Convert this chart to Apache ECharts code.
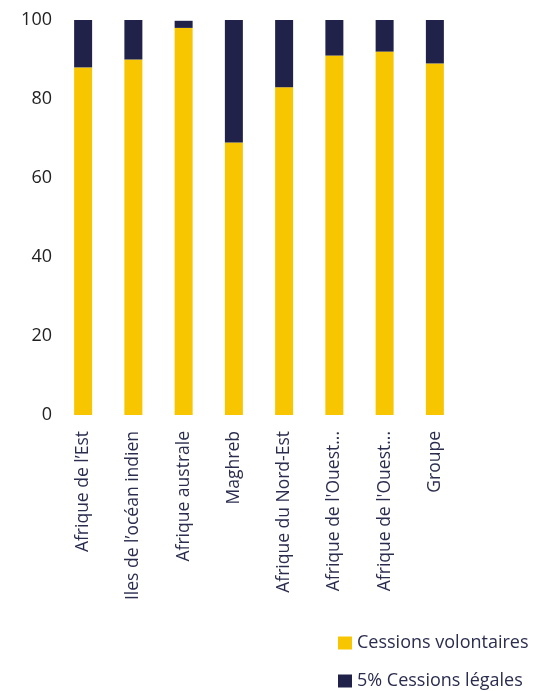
<!DOCTYPE html>
<html>
<head>
<meta charset="utf-8">
<script src="https://cdn.jsdelivr.net/npm/echarts@6/dist/echarts.min.js"></script>
<style>html,body{margin:0;padding:0;background:#fff}#c{width:538px;height:691px}</style>
</head>
<body>
<div id="c"></div>
<script>
var categories = ["Afrique de l’Est", "Iles de l’océan indien", "Afrique australe", "Maghreb", "Afrique du Nord-Est", "Afrique de l'Ouest...", "Afrique de l'Ouest...", "Groupe"];
var volontaires = [88, 90, 98, 69, 83, 91, 92, 89];
var legales = [12, 10, 1.8, 31, 17, 9, 8, 11];
var yTicks = [0, 20, 40, 60, 80, 100];

var chart = echarts.init(document.getElementById('c'));
var font = "'Open Sans', 'Noto Sans', sans-serif";
chart.setOption({
  animation: false,
  textStyle: { fontFamily: font },
  grid: { left: 58, right: 78, top: 20, bottom: 276, containLabel: false },
  legend: {
    orient: 'vertical', left: 333, top: 629, height: 120,
    itemWidth: 14, itemHeight: 13, itemGap: 20,
    icon: 'rect',
    textStyle: { color: '#2b2d4f', fontSize: 18, fontFamily: font },
    data: ['Cessions volontaires', '5% Cessions légales']
  },
  xAxis: {
    type: 'category', data: categories,
    axisLine: { show: false }, axisTick: { show: false },
    axisLabel: { rotate: 90, interval: 0, color: '#2b2d4f', fontSize: 17.5, margin: 16, fontFamily: font }
  },
  yAxis: {
    type: 'value', min: yTicks[0], max: yTicks[yTicks.length - 1], interval: 20,
    axisLine: { show: false }, axisTick: { show: false }, splitLine: { show: false },
    axisLabel: { color: '#222', fontSize: 18, margin: 6, fontFamily: font }
  },
  series: [
    { name: 'Cessions volontaires', type: 'bar', stack: 'a', data: volontaires, barWidth: 18, itemStyle: { color: '#F7C600' } },
    { name: '5% Cessions légales', type: 'bar', stack: 'a', data: legales, barWidth: 18, itemStyle: { color: '#20224A' } }
  ]
});
</script>
</body>
</html>
